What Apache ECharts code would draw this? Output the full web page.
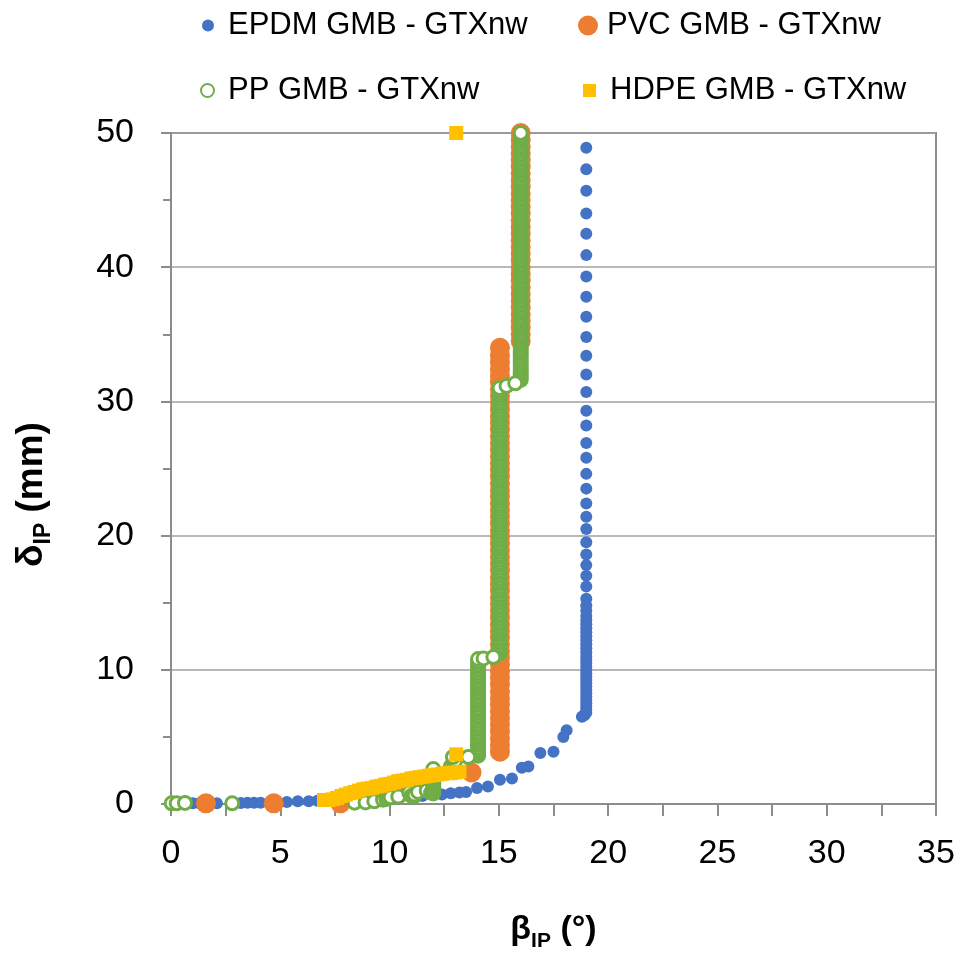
<!DOCTYPE html>
<html>
<head>
<meta charset="utf-8">
<script src="https://cdn.jsdelivr.net/npm/echarts@6/dist/echarts.min.js"></script>
<style>
html,body{margin:0;padding:0;background:#fff;}
#chart{width:963px;height:957px;}
</style>
</head>
<body>
<div id="chart"></div>
<script>
// ---------- data ----------
const seriesNames = ['EPDM GMB - GTXnw', 'PVC GMB - GTXnw', 'PP GMB - GTXnw', 'HDPE GMB - GTXnw'];
const xTicks = [0, 5, 10, 15, 20, 25, 30, 35];
const yTicks = [0, 10, 20, 30, 40, 50];

// EPDM: rising curve, then a column at beta = 19
const epdmCurve = [[0.05,0.05],[0.35,0.05],[0.7,0.05],[1.0,0.05],[1.3,0.05],[2.1,0.05],[2.9,0.08],[3.2,0.08],[3.5,0.1],[3.8,0.1],[4.1,0.1],[5.3,0.15],[5.8,0.2],[6.3,0.2],[6.7,0.25],[7.2,0.3],[7.7,0.3],[8.2,0.35],[8.7,0.4],[9.2,0.45],[9.6,0.5],[10.0,0.5],[10.5,0.5],[11.0,0.55],[11.5,0.6],[12.0,0.65],[12.4,0.7],[12.8,0.8],[13.2,0.85],[13.5,0.9],[14.0,1.2],[14.5,1.3],[15.05,1.8],[15.6,1.9],[16.05,2.7],[16.35,2.8],[16.9,3.8],[17.5,3.9],[17.95,5.0],[18.1,5.5],[18.8,6.5],[18.9,6.6],[18.95,6.7]];
const epdmColumnX = 19.0;
const epdmColumnY = [6.8,7.0,7.25,7.5,7.75,8.0,8.25,8.5,8.75,9.0,9.25,9.5,9.75,10.0,10.25,10.5,10.75,11.0,11.3,11.6,11.9,12.2,12.5,12.8,13.1,13.4,13.7,14.0,14.4,14.8,15.3,16.2,17.0,17.8,18.6,19.5,20.5,21.4,22.4,23.5,24.6,25.8,26.9,28.2,29.3,30.7,32.0,33.4,34.8,36.3,37.8,39.3,40.9,42.5,44.0,45.7,47.3,48.9];

// PVC: a few low points, then columns at 15 and 16
const pvcCurve = [[1.6,0.05],[4.7,0.05],[7.75,0.05],[10.5,1.1],[13.75,2.35]];
const pvcColumn1X = 15.05;
const pvcColumn1Y = [3.9,4.4,4.9,5.4,5.9,6.4,6.9,7.4,7.9,8.4,8.9,9.4,9.9,10.4,10.9,11.4,11.9,12.4,12.9,13.4,13.9,14.4,14.9,15.4,15.9,16.4,16.9,17.4,17.9,18.4,18.9,19.4,19.9,20.4,20.9,21.4,21.9,22.4,22.9,23.4,23.9,24.4,24.9,25.4,25.9,26.4,26.9,27.4,27.9,28.4,28.9,29.4,29.9,30.4,30.9,31.4,31.9,32.4,32.9,33.4,34.0];
const pvcColumn2X = 16.0;
const pvcColumn2Y = [34.5,35.0,35.5,36.0,36.5,37.0,37.5,38.0,38.5,39.0,39.5,40.0,40.5,41.0,41.5,42.0,42.5,43.0,43.5,44.0,44.5,45.0,45.5,46.0,46.5,47.0,47.5,48.0,48.5,49.0,49.5,50.0];

// PP: low points, columns at 12, 14, 15, 16, and the step points between them
const ppCurve = [[0.03,0.05],[0.26,0.05],[0.64,0.08],[2.8,0.05],[8.4,0.1],[8.9,0.12],[9.3,0.2],[9.7,0.32],[9.85,0.38],[9.95,0.45],[10.05,0.5],[10.4,0.55],[10.9,0.85],[11.0,0.6],[11.1,0.55],[11.15,0.7],[11.3,0.9],[11.7,1.0],[11.9,0.85]];
const ppColumn12X = 12.0;
const ppColumn12Y = [0.8,0.95,1.1,1.25,1.4,1.55,1.7,1.85,2.0,2.15,2.3,2.45,2.6];
const ppStep1 = [[12.8,2.8],[12.95,3.0],[13.0,3.2]];
const ppColumn14X = 14.05;
const ppColumn14Y = [3.6,3.8,4.0,4.2,4.4,4.6,4.8,5.0,5.2,5.4,5.6,5.8,6.0,6.2,6.4,6.6,6.8,7.0,7.2,7.4,7.6,7.8,8.0,8.2,8.4,8.6,8.8,9.0,9.2,9.4,9.6,9.8,10.0,10.2,10.4,10.6,10.8];
const ppColumn15X = 15.03;
const ppColumn15Y = [11.2,11.4,11.6,11.8,12.0,12.2,12.4,12.6,12.8,13.0,13.2,13.4,13.6,13.8,14.0,14.2,14.4,14.6,14.8,15.0,15.2,15.4,15.6,15.8,16.0,16.2,16.4,16.6,16.8,17.0,17.2,17.4,17.6,17.8,18.0,18.2,18.4,18.6,18.8,19.0,19.2,19.4,19.6,19.8,20.0,20.2,20.4,20.6,20.8,21.0,21.2,21.4,21.6,21.8,22.0,22.2,22.4,22.6,22.8,23.0,23.2,23.4,23.6,23.8,24.0,24.2,24.4,24.6,24.8,25.0,25.2,25.4,25.6,25.8,26.0,26.2,26.4,26.6,26.8,27.0,27.2,27.4,27.6,27.8,28.0,28.2,28.4,28.6,28.8,29.0,29.2,29.4,29.6,29.8,30.0,30.2,30.4,30.6,30.8,31.0];
const ppColumn16X = 16.0;
const ppColumn16Y = [31.6,31.8,32.0,32.2,32.4,32.6,32.8,33.0,33.2,33.4,33.6,33.8,34.0,34.2,34.4,34.6,34.8,35.0,35.2,35.4,35.6,35.8,36.0,36.2,36.4,36.6,36.8,37.0,37.2,37.4,37.6,37.8,38.0,38.2,38.4,38.6,38.8,39.0,39.2,39.4,39.6,39.8,40.0,40.2,40.4,40.6,40.8,41.0,41.2,41.4,41.6,41.8,42.0,42.2,42.4,42.6,42.8,43.0,43.2,43.4,43.6,43.8,44.0,44.2,44.4,44.6,44.8,45.0,45.2,45.4,45.6,45.8,46.0,46.2,46.4,46.6,46.8,47.0,47.2,47.4,47.6,47.8,48.0,48.2,48.4,48.6,48.8,49.0,49.2,49.4,49.6,49.8,50.0];
const ppSteps = [[12.9,3.5],[13.6,3.5],[14.3,10.85],[14.75,10.95],[15.35,31.15],[15.75,31.35]];

// HDPE: staircase band, then two isolated points
const hdpeCurve = [[7.0,0.3],[7.2,0.3],[7.4,0.35],[7.6,0.45],[7.8,0.6],[8.0,0.7],[8.2,0.8],[8.4,0.9],[8.6,1.0],[8.8,1.1],[9.0,1.15],[9.2,1.2],[9.4,1.3],[9.6,1.35],[9.8,1.45],[10.0,1.5],[10.2,1.6],[10.4,1.7],[10.6,1.75],[10.8,1.8],[11.0,1.9],[11.2,1.95],[11.4,2.0],[11.6,2.05],[11.8,2.1],[12.0,2.15],[12.2,2.2],[12.4,2.25],[12.6,2.3],[12.8,2.3],[13.0,2.35],[13.2,2.4],[13.05,3.7],[13.05,50.0]];

// ---------- build ----------
const col = (x, ys) => ys.map(y => [x, y]);
const epdmData = epdmCurve.concat(col(epdmColumnX, epdmColumnY));
const pvcData = pvcCurve.concat(col(pvcColumn1X, pvcColumn1Y), col(pvcColumn2X, pvcColumn2Y));
const ppData = ppCurve.concat(col(ppColumn12X, ppColumn12Y), ppStep1, col(ppColumn14X, ppColumn14Y), col(ppColumn15X, ppColumn15Y), col(ppColumn16X, ppColumn16Y), ppSteps);
const hdpeData = hdpeCurve;

const BLUE = '#4472c4', ORANGE = '#ed7d31', GREEN = '#70ad47', YELLOW = '#ffc000';
const AX = '#8c8c8c';
const FONT = 'Liberation Sans';

const chart = echarts.init(document.getElementById('chart'), null, {renderer: 'canvas'});

function legend(name, left, top, w, h, icon, itemStyle, pad) {
  return {
    data: [{name: name, icon: icon, itemStyle: itemStyle}],
    left: left, top: top, padding: 0,
    itemWidth: w, itemHeight: h,
    selectedMode: false,
    textStyle: {fontFamily: FONT, fontSize: 31, color: '#000', padding: [0, 0, 0, pad]}
  };
}

const nameRich = {
  b: {fontFamily: FONT, fontSize: 34, fontWeight: 'bold', color: '#000', lineHeight: 44},
  s: {fontFamily: FONT, fontSize: 21, fontWeight: 'bold', color: '#000', lineHeight: 20, verticalAlign: 'bottom'}
};
const nameRichY = {
  b: {fontFamily: FONT, fontSize: 37, fontWeight: 'bold', color: '#000', lineHeight: 46},
  s: {fontFamily: FONT, fontSize: 23, fontWeight: 'bold', color: '#000', lineHeight: 20, verticalAlign: 'bottom'}
};

const option = {
  animation: false,
  backgroundColor: '#fff',
  legend: [
    legend(seriesNames[0], 202, 10, 12, 12, 'circle', {color: BLUE}, 9),
    legend(seriesNames[1], 578, 10, 20, 20, 'circle', {color: ORANGE}, 4),
    legend(seriesNames[2], 200, 75, 13, 13, 'circle', {color: '#fff', borderColor: GREEN, borderWidth: 2}, 9),
    legend(seriesNames[3], 583, 75, 13, 13, 'rect', {color: YELLOW}, 9)
  ],
  grid: {left: 171, right: 27, top: 133, bottom: 153, show: true, borderColor: AX, borderWidth: 2, containLabel: false},
  xAxis: {
    type: 'value', min: xTicks[0], max: xTicks[xTicks.length - 1], interval: 5,
    name: '{b|β}{s|IP}{b| (°)}', nameLocation: 'middle', nameGap: 104,
    nameTextStyle: {rich: nameRich},
    axisLine: {show: true, onZero: false, lineStyle: {color: AX, width: 2}},
    axisTick: {show: true, length: 12, lineStyle: {color: AX, width: 2}},
    minorTick: {show: true, splitNumber: 2, length: 12, lineStyle: {color: AX, width: 2}},
    splitLine: {show: false},
    axisLabel: {fontFamily: FONT, fontSize: 34, color: '#000', margin: 33}
  },
  yAxis: {
    type: 'value', min: yTicks[0], max: yTicks[yTicks.length - 1], interval: 10,
    name: '{b|δ}{s|IP}{b| (mm)}', nameLocation: 'middle', nameGap: 116,
    nameTextStyle: {padding: [0, 52, 0, 0], rich: nameRichY},
    axisLine: {show: true, onZero: false, lineStyle: {color: AX, width: 2}},
    axisTick: {show: true, length: 10, lineStyle: {color: AX, width: 2}},
    minorTick: {show: true, splitNumber: 2, length: 8, lineStyle: {color: AX, width: 2}},
    splitLine: {show: true, lineStyle: {color: '#a0a0a0', width: 1.5}},
    axisLabel: {fontFamily: FONT, fontSize: 34, color: '#000', margin: 37}
  },
  series: [
    {name: seriesNames[0], type: 'scatter', data: epdmData, symbol: 'circle', symbolSize: 12, itemStyle: {color: BLUE, opacity: 1}, z: 2},
    {name: seriesNames[1], type: 'scatter', data: pvcData, symbol: 'circle', symbolSize: 20, itemStyle: {color: ORANGE, opacity: 1}, z: 3},
    {name: seriesNames[2], type: 'scatter', data: ppData, symbol: 'circle', symbolSize: 13, itemStyle: {color: '#fff', borderColor: GREEN, borderWidth: 3, opacity: 1}, z: 4},
    {name: seriesNames[3], type: 'scatter', data: hdpeData, symbol: 'rect', symbolSize: 14, itemStyle: {color: YELLOW, opacity: 1}, z: 5}
  ]
};
chart.setOption(option);
</script>
</body>
</html>
